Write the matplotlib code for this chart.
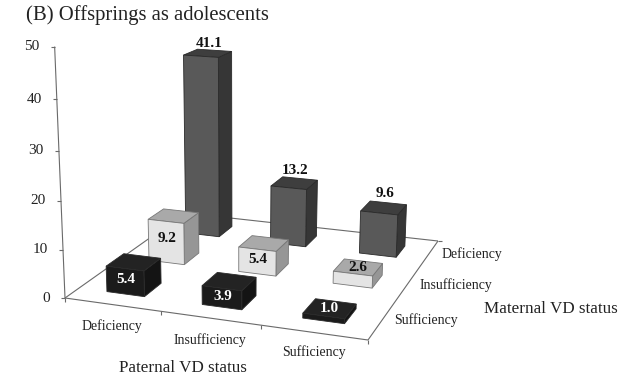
import numpy as np
import matplotlib
matplotlib.use("Agg")
import matplotlib.pyplot as plt
from matplotlib.patches import Polygon

plt.rcParams['font.family'] = ['Liberation Serif', 'DejaVu Serif']

paternal = ["Deficiency", "Insufficiency", "Sufficiency"]
maternal = ["Sufficiency", "Insufficiency", "Deficiency"]
# rows follow maternal (front to back), columns follow paternal
sufficiency_vals = [5.4, 3.9, 1.0]
insufficiency_vals = [9.2, 5.4, 2.6]
deficiency_vals = [41.1, 13.2, 9.6]
z_ticks = [0, 10, 20, 30, 40, 50]

# front, top, side colours for each maternal row
row_colors = [("#1b1b1b", "#232323", "#141414"),
              ("#e4e4e4", "#a9a9a9", "#969696"),
              ("#595959", "#3e3e3e", "#363636")]
label_colors = ["white", "#111111", "#111111"]
top_label_gap = [3, 6, 8]

# floor corners on the picture, everything else goes through this perspective
floor_src = [(0, 0), (3, 0), (3, 3), (0, 3)]
floor_dst = [(65, 298), (368, 340), (438, 241), (185, 213)]


def floor_matrix(src, dst):
    A, b = [], []
    for (u, v), (x, y) in zip(src, dst):
        A.append([u, v, 1, 0, 0, 0, -u * x, -v * x])
        A.append([0, 0, 0, u, v, 1, -u * y, -v * y])
        b += [x, y]
    h = np.linalg.solve(np.array(A, float), np.array(b, float))
    return np.append(h, 1).reshape(3, 3)


H = floor_matrix(floor_src, floor_dst)

# z column fitted on the axis ticks and the top of the tallest bar
z_points = [(0, 0, 50, 55, 47), (0, 0, 20, 59, 200), (0.3, 2.3, 41.1, 184, 55)]
A, b = [], []
for u, v, z, x, y in z_points:
    base = H @ [u, v, 1]
    A.append([z, 0, -x * z])
    A.append([0, z, -y * z])
    b += [x * base[2] - base[0], y * base[2] - base[1]]
cz = np.linalg.lstsq(np.array(A, float), np.array(b, float), rcond=None)[0]


def proj(u, v, z=0):
    p = H @ [u, v, 1] + z * cz
    return p[0] / p[2], p[1] / p[2]


fig = plt.figure(figsize=(6.33, 3.89), dpi=100)
ax = fig.add_axes([0, 0, 1, 1])
ax.set_xlim(0, 633)
ax.set_ylim(389, 0)
ax.axis("off")

line_c = "#6a6a6a"


def seg(a, b, lw=0.8):
    ax.plot([a[0], b[0]], [a[1], b[1]], color=line_c, lw=lw, zorder=1, solid_capstyle="butt")


# floor and axes
seg(proj(0, 0), proj(3, 0))
seg(proj(3, 0), proj(3, 3))
seg(proj(3, 3), proj(0, 3))
seg(proj(0, 3), proj(0, 0))
seg(proj(0, 0), proj(0, 0, 50))

for t in z_ticks:
    x, y = proj(0, 0, t)
    seg((x - 4, y), (x, y))
    ax.text(x - 15, y, str(t), ha="right", va="center", fontsize=11, color="#222222")

for i in range(4):
    x, y = proj(i, 0)
    seg((x, y), (x, y + 4))
x, y = proj(3, 3)
seg((x, y), (x + 4, y))

# bars, back row first
rows = [sufficiency_vals, insufficiency_vals, deficiency_vals]
w = 0.4
gap = 0.3
for j in [2, 1, 0]:
    for i in [2, 1, 0]:
        val = rows[j][i]
        u0, u1 = i + gap, i + gap + w
        v0, v1 = j + gap, j + gap + w
        front = [proj(u0, v0), proj(u1, v0), proj(u1, v0, val), proj(u0, v0, val)]
        side = [proj(u1, v0), proj(u1, v1), proj(u1, v1, val), proj(u1, v0, val)]
        top = [proj(u0, v0, val), proj(u1, v0, val), proj(u1, v1, val), proj(u0, v1, val)]
        cf, ct, cs = row_colors[j]
        for pts, c in ((side, cs), (top, ct), (front, cf)):
            ax.add_patch(Polygon(pts, closed=True, facecolor=c, edgecolor="#777777" if j == 1 else "#2a2a2a",
                                 lw=0.6, zorder=3 + (2 - j)))
        txt = "%.1f" % val
        if j == 2:
            x, y = proj((u0 + u1) / 2, (v0 + v1) / 2, val)
            ax.text(x + 1, y - top_label_gap[i], txt, ha="center", va="bottom", fontsize=11, fontweight="bold",
                    color="#111111", zorder=9)
        elif val < 3:
            # too short for the front face, sits on the top face
            x, y = proj((u0 + u1) / 2, (v0 + v1) / 2, val)
            ax.text(x, y, txt, ha="center", va="center", fontsize=11, fontweight="bold",
                    color=label_colors[j], zorder=9)
        else:
            x, y = proj((u0 + u1) / 2, v0, val * 0.58)
            ax.text(x + 1, y, txt, ha="center", va="center", fontsize=11, fontweight="bold",
                    color=label_colors[j], zorder=9)

# category labels
for name, (x, y) in zip(paternal, [(112, 326), (210, 340), (314, 352)]):
    ax.text(x, y, name, ha="center", va="center", fontsize=10, color="#222222")
for name, (x, y) in zip(maternal, [(426, 320), (456, 285), (471.5, 254)]):
    ax.text(x, y, name, ha="center", va="center", fontsize=10, color="#222222")

ax.text(183, 368, "Paternal VD status", ha="center", va="center", fontsize=12.3, color="#222222")
ax.text(551, 309, "Maternal VD status", ha="center", va="center", fontsize=12.3, color="#222222")
ax.text(26, 15, "(B) Offsprings as adolescents", ha="left", va="center", fontsize=14.9, color="#222222")

fig.savefig("out.png", dpi=100)
